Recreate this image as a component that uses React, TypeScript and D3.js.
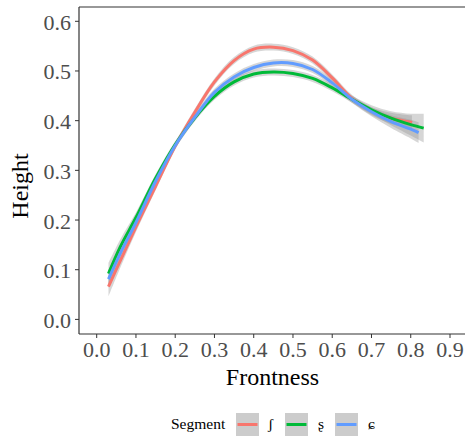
import React from "react";
import * as d3 from "d3";

const frontness = [0.03, 0.06, 0.1, 0.15, 0.2, 0.25, 0.3, 0.35, 0.4, 0.45, 0.5, 0.55, 0.6, 0.65, 0.7, 0.75, 0.8];

const segments = ["ʃ", "ʂ", "ɕ"];
const colors = ["#F8766D", "#00BA38", "#619CFF"];

// fitted heights per segment
const heightSh = [0.066, 0.118, 0.186, 0.268, 0.349, 0.417, 0.478, 0.521, 0.544, 0.548, 0.541, 0.522, 0.486, 0.445, 0.419, 0.405, 0.397];
const heightSr = [0.092, 0.146, 0.205, 0.284, 0.352, 0.406, 0.449, 0.478, 0.494, 0.498, 0.495, 0.485, 0.466, 0.443, 0.422, 0.405, 0.392];
const heightSc = [0.081, 0.133, 0.195, 0.278, 0.350, 0.407, 0.457, 0.488, 0.507, 0.516, 0.515, 0.503, 0.476, 0.443, 0.418, 0.398, 0.383];

// extra end points
const endX = [0.803, 0.833, 0.82];
const endY = [0.396, 0.385, 0.376];

// confidence half-widths
const ciSh = [0.02, 0.014, 0.01, 0.008, 0.007, 0.007, 0.007, 0.007, 0.007, 0.007, 0.007, 0.007, 0.007, 0.007, 0.008, 0.011, 0.014, 0.015];
const ciSr = [0.022, 0.015, 0.01, 0.008, 0.007, 0.007, 0.007, 0.007, 0.007, 0.007, 0.007, 0.007, 0.007, 0.007, 0.009, 0.014, 0.022, 0.029];
const ciSc = [0.018, 0.013, 0.009, 0.008, 0.007, 0.007, 0.007, 0.007, 0.007, 0.007, 0.007, 0.007, 0.007, 0.007, 0.009, 0.013, 0.019, 0.021];

const xTicks = [0, 0.1, 0.2, 0.3, 0.4, 0.5, 0.6, 0.7, 0.8, 0.9];
const yTicks = [0, 0.1, 0.2, 0.3, 0.4, 0.5, 0.6];

const W = 465, H = 441;
const panelL = 79, panelT = 7, panelB = 334, panelR = 466;

export default function App() {
  const x = d3.scaleLinear().domain([0, 0.9]).range([96.7, 450]);
  const y = d3.scaleLinear().domain([0, 0.6]).range([319.4, 21.3]);
  const series = [heightSh, heightSr, heightSc].map((hs, i) => {
    const ci = [ciSh, ciSr, ciSc][i];
    const pts = frontness.map((f, j) => ({ x: f, y: hs[j], c: ci[j] }));
    pts.push({ x: endX[i], y: endY[i], c: ci[ci.length - 1] });
    return pts;
  });
  const curve = d3.curveCatmullRom.alpha(0.5);
  const line = d3.line<any>().x(d => x(d.x)).y(d => y(d.y)).curve(curve);
  const area = d3.area<any>().x(d => x(d.x)).y0(d => y(d.y - d.c)).y1(d => y(d.y + d.c)).curve(curve);
  const font = "'Liberation Serif', 'DejaVu Serif', serif";
  const legendKeys = [236, 285, 335];
  const legendLabels = [268, 318, 368];

  return (
    <div style={{ position: "absolute", left: 0, top: 0 }}>
      <svg width={W} height={H} style={{ display: "block", background: "#fff" }} fontFamily={font}>
        <defs>
          <clipPath id="pc"><rect x={panelL} y={panelT} width={panelR - panelL} height={panelB - panelT} /></clipPath>
        </defs>
        <g clipPath="url(#pc)">
          {series.map((s, i) => (
            <path key={"a" + i} d={area(s) || ""} fill="#999999" fillOpacity={0.4} stroke="none" />
          ))}
          {series.map((s, i) => (
            <path key={"l" + i} d={line(s) || ""} fill="none" stroke={colors[i]} strokeWidth={3} />
          ))}
        </g>
        <line x1={panelL} x2={panelR} y1={panelT} y2={panelT} stroke="#333" strokeWidth={1.2} />
        <line x1={panelL} x2={panelL} y1={panelT} y2={panelB} stroke="#333" strokeWidth={1.2} />
        <line x1={panelL} x2={panelR} y1={panelB} y2={panelB} stroke="#333" strokeWidth={1.2} />
        {yTicks.map(t => (
          <g key={"y" + t}>
            <line x1={panelL - 4} x2={panelL} y1={y(t)} y2={y(t)} stroke="#333" strokeWidth={1} />
            <text x={71} y={y(t) + 8.5} textAnchor="end" fontSize={22} fill="#4D4D4D">{t.toFixed(1)}</text>
          </g>
        ))}
        {xTicks.map(t => (
          <g key={"x" + t}>
            <line x1={x(t)} x2={x(t)} y1={panelB} y2={panelB + 4} stroke="#333" strokeWidth={1} />
            <text x={x(t)} y={357} textAnchor="middle" fontSize={22} fill="#4D4D4D">{t.toFixed(1)}</text>
          </g>
        ))}
        <text x={(panelL + panelR) / 2} y={385} textAnchor="middle" fontSize={24} fill="#000">Frontness</text>
        <text transform={`translate(28,186) rotate(-90)`} textAnchor="middle" fontSize={24} fill="#000">Height</text>
        <text x={171} y={429} fontSize={15.5} fill="#000">Segment</text>
        {segments.map((s, i) => (
          <g key={"k" + i}>
            <rect x={legendKeys[i]} y={413} width={23} height={23} fill="#999999" fillOpacity={0.5} />
            <line x1={legendKeys[i] + 1.5} x2={legendKeys[i] + 21.5} y1={424.5} y2={424.5} stroke={colors[i]} strokeWidth={3} />
            <text x={legendLabels[i]} y={429} fontSize={15.5} fill="#000">{s}</text>
          </g>
        ))}
      </svg>
    </div>
  );
}
